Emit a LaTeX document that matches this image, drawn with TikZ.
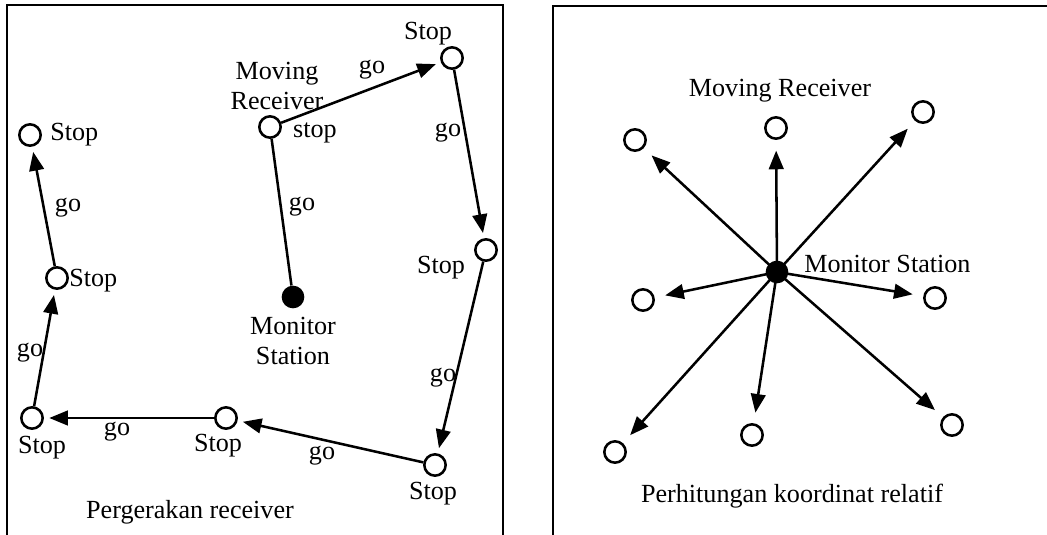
\documentclass[tikz,border=0pt]{standalone}
\usepackage{fontspec}
\setmainfont{Liberation Serif}
\usetikzlibrary{arrows.meta}
\begin{document}
\begin{tikzpicture}[x=0.75pt,y=-0.75pt,
  rx/.style={circle,draw,line width=1.9pt,minimum size=16pt,inner sep=0pt},
  ms/.style={circle,fill,minimum size=17pt,inner sep=0pt},
  lbl/.style={font=\fontsize{19.6}{22.5}\selectfont,inner sep=0pt,align=center},
  go/.style={line width=1.9pt,-{Triangle[length=14pt,width=11pt]},shorten >=4pt},
  gor/.style={line width=1.9pt,-{Triangle[length=14pt,width=11pt]},shorten >=8pt},
  frame/.style={line width=1.6pt}]
\useasboundingbox (0,0) rectangle (1047,535);
% frames
\draw[frame] (7,540) -- (7,5) -- (503,5) -- (503,540);
\draw[frame] (553,540) -- (553,6) -- (1052,6);
% ---------- left panel ----------
\node[rx] (tl) at (30,135) {};
\node[rx] (mr) at (270,127) {};
\node[rx] (ts) at (452,58) {};
\node[rx] (rm) at (486,250) {};
\node[ms] (mon) at (293,297) {};
\node[rx] (lm) at (57,278) {};
\node[rx] (bl) at (32,418) {};
\node[rx] (bm) at (226,418) {};
\node[rx] (br) at (435,465) {};
\draw[line width=1.9pt] (mr) -- (mon);
\draw[go] (mr) -- (ts);
\draw[go] (ts) -- (rm);
\draw[go] (rm) -- (br);
\draw[go] (br) -- (bm);
\draw[go] (bm) -- (bl);
\draw[go] (bl) -- (lm);
\draw[go] (lm) -- (tl);
\node[lbl,anchor=west] (tlT) at (50,135) {Stop};
\node[lbl] (mrT) at (277,86) {Moving\\Receiver};
\node[lbl] (mrS) at (315,133) {stop};
\node[lbl] (g1) at (372,70) {go};
\node[lbl] (tsT) at (428,34) {Stop};
\node[lbl] (g2) at (448,133) {go};
\node[lbl] (g3) at (302,207) {go};
\node[lbl] (g4) at (68,208) {go};
\node[lbl] (rmT) at (441,268) {Stop};
\node[lbl,anchor=west] (lmT) at (69,281) {Stop};
\node[lbl] (monT) at (293,341) {Monitor\\Station};
\node[lbl] (g5) at (30,353) {go};
\node[lbl] (g6) at (443,378) {go};
\node[lbl] (blT) at (42,448) {Stop};
\node[lbl] (g7) at (117,432) {go};
\node[lbl] (bmT) at (218,446) {Stop};
\node[lbl] (g8) at (322,456) {go};
\node[lbl] (brT) at (433,494) {Stop};
\node[lbl] (capL) at (190,512) {Pergerakan receiver};
% ---------- right panel ----------
\node[ms] (M) at (777,272) {};
\node[rx] (r1) at (635,140) {};
\node[rx] (r2) at (776,128) {};
\node[rx] (r3) at (923,112) {};
\node[rx] (r4) at (643,300) {};
\node[rx] (r5) at (935,298) {};
\node[rx] (r6) at (615,452) {};
\node[rx] (r7) at (752,435) {};
\node[rx] (r8) at (952,425) {};
\foreach \t in {r1,r2,r3,r4,r5,r6,r7,r8}
  \draw[gor] (M.center) -- (\t);
\node[lbl] (mrR) at (780,91) {Moving Receiver};
\node[lbl,anchor=west] (msR) at (804,264) {Monitor Station};
\node[lbl] (capR) at (792,496) {Perhitungan koordinat relatif};
\end{tikzpicture}
\end{document}
